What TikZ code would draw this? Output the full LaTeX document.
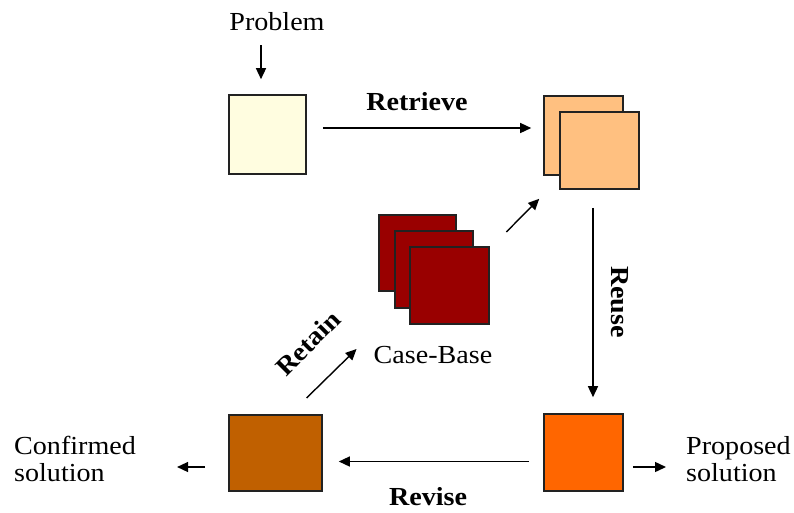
\documentclass[tikz,border=0pt]{standalone}
\usepackage{fontspec}
\setmainfont[FakeStretch=1.08]{Liberation Serif}
\usetikzlibrary{calc,arrows.meta}
\definecolor{cLight}{HTML}{FFFDE0}
\definecolor{cPeach}{HTML}{FFC080}
\definecolor{cDark}{HTML}{990000}
\definecolor{cOrange}{HTML}{FF6600}
\definecolor{cBrown}{HTML}{C06000}
\definecolor{cEdge}{HTML}{222222}
\begin{document}
\begin{tikzpicture}[x=1pt,y=-1pt,
  box/.style={draw=cEdge,line width=1.6pt,rectangle,inner sep=0pt,minimum width=77pt,minimum height=78pt},
  arr/.style={line width=1.4pt,-{Triangle[length=11pt,width=10pt]}},
  txt/.style={font=\fontsize{26}{27}\selectfont,inner sep=0pt},
  lbl/.style={font=\fontsize{26}{27}\selectfont\bfseries,inner sep=0pt}]
\useasboundingbox (0,0) rectangle (794,512);
% boxes
\node[box,fill=cLight,minimum width=77pt,minimum height=79pt] (b1) at (267.5,134.5) {};
\node[box,fill=cPeach,minimum width=79pt,minimum height=79pt] (b2a) at (583.5,135.5) {};
\node[box,fill=cPeach,minimum width=79pt,minimum height=77pt] (b2b) at (599.5,150.5) {};
\node[box,fill=cDark,minimum width=77pt,minimum height=76pt] (cb1) at (417.5,253) {};
\node[box,fill=cDark,minimum width=78pt,minimum height=77pt] (cb2) at (434,269.5) {};
\node[box,fill=cDark,minimum width=79pt,minimum height=77pt] (cb3) at (449.5,285.5) {};
\node[box,fill=cOrange,minimum width=79pt,minimum height=77pt] (b4) at (583.5,452.5) {};
\node[box,fill=cBrown,minimum width=93pt,minimum height=76pt] (b3) at (275.5,453) {};
% texts
\node[txt] (prob) at (277,22) {Problem};
\node[txt] (cbl) at (433,355) {Case-Base};
\node[txt,align=left,anchor=west] (prop) at (686,459) {Proposed\\solution};
\node[txt,align=left,anchor=west] (conf) at (14,459) {Confirmed\\solution};
% labels
\node[lbl] (lret) at (417,102) {Retrieve};
\node[lbl,rotate=-90] (lreu) at (620,302) {Reuse};
\node[lbl] (lrev) at (428,497) {Revise};
\node[lbl,rotate=45] (lrta) at (308,343) {Retain};
% connectors
\draw[arr] ($(prob.south)+(-16,14)$) -- ($(b1.north)+(-6.5,-15)$);
\draw[arr] ($(b1.east)+(16,-6.5)$) -- ($(b2a.west)+(-12,-7.5)$);
\draw[arr] ($(b2b.south)+(-6.5,18)$) -- ($(b4.north)+(9.5,-16)$);
\draw[arr] ($(b4.west)+(-14,9)$) -- ($(b3.east)+(16,8.5)$);
\draw[arr] ($(b4.east)+(9,14.5)$) -- ($(prop.west)+(-20,8)$);
\draw[arr] ($(b3.west)+(-23,14)$) -- ($(conf.east)+(41,8)$);
\draw[arr] ($(cb3.east)+(16.5,-53.5)$) -- ($(b2b.south west)+(-20,9)$);
\draw[arr] ($(cbl.west)+(-67,43)$) -- ($(cbl.west)+(-17,-6)$);
\end{tikzpicture}
\end{document}
